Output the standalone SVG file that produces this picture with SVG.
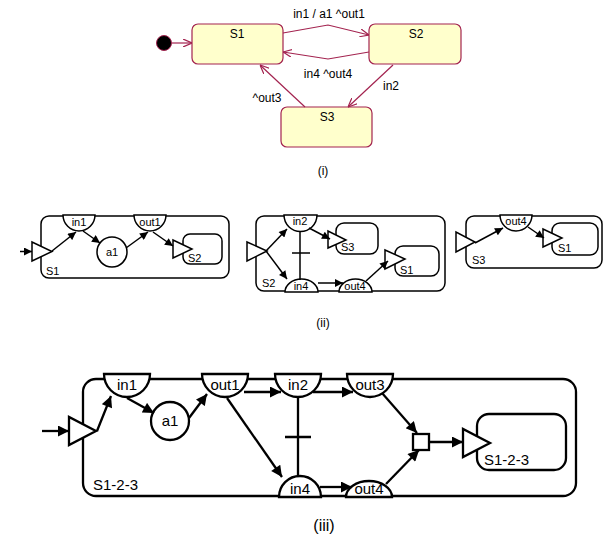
<svg xmlns="http://www.w3.org/2000/svg" width="608" height="546" viewBox="0 0 608 546">
<defs>
<style>
text{font-family:"Liberation Sans",Arial,sans-serif;fill:#000}
.st{fill:#ffffcc;stroke:#a3234f;stroke-width:1.2}
.tr1{fill:none;stroke:#a3234f;stroke-width:1.2}
.t1{font-size:12px;text-anchor:middle}
.b2{fill:#fff;stroke:#000;stroke-width:1.5}
.c2{fill:none;stroke:#000;stroke-width:1.5}
.t2{font-size:11px}
.b3{fill:#fff;stroke:#000;stroke-width:2.3}
.c3{fill:none;stroke:#000;stroke-width:2.3}
.t3{font-size:15px}
.m{text-anchor:middle}
</style>
<marker id="open" viewBox="0 0 9 8" refX="9" refY="4" markerWidth="9" markerHeight="8" markerUnits="userSpaceOnUse" orient="auto">
<path d="M0,0 L9,4 L0,8" fill="none" stroke="#a3234f" stroke-width="1.2"/>
</marker>
<marker id="f2" viewBox="0 0 10 10" refX="10" refY="5" markerWidth="9" markerHeight="8" markerUnits="userSpaceOnUse" orient="auto">
<path d="M0,0 L10,5 L0,10 z" fill="#000"/>
</marker>
<marker id="f3" viewBox="0 0 10 10" refX="10" refY="5" markerWidth="13" markerHeight="11" markerUnits="userSpaceOnUse" orient="auto">
<path d="M0,0 L10,5 L0,10 z" fill="#000"/>
</marker>
</defs>

<!-- ===== (i) ===== -->
<g id="i-init"><circle cx="164" cy="43" r="7.5" fill="#000" stroke="#a3234f" stroke-width="1"/></g>
<g id="i-S1"><rect class="st" x="192" y="24" width="91" height="40" rx="6"/><text class="t1" x="237" y="38">S1</text></g>
<g id="i-S2"><rect class="st" x="369" y="24" width="92" height="40" rx="6"/><text class="t1" x="416" y="38">S2</text></g>
<g id="i-S3"><rect class="st" x="281" y="107" width="91" height="40" rx="6"/><text class="t1" x="327" y="121">S3</text></g>
<g id="i-connectors">
<path class="tr1" d="M172,43 L192,43" marker-end="url(#open)"/>
<path class="tr1" d="M283,33 L328,25 L369,35" marker-end="url(#open)"/>
<path class="tr1" d="M369,52 L328,59 L283,52" marker-end="url(#open)"/>
<path class="tr1" d="M393,65 L348,107" marker-end="url(#open)"/>
<path class="tr1" d="M305,107 L260,65" marker-end="url(#open)"/>
<text class="t1" x="329" y="18">in1 / a1 ^out1</text>
<text class="t1" x="328" y="78">in4 ^out4</text>
<text class="t1" x="391" y="90">in2</text>
<text class="t1" x="267" y="102">^out3</text>
</g>
<text class="t1" x="323" y="175">(i)</text>

<!-- ===== (ii) panel S1 ===== -->
<g id="ii-S1">
<rect class="b2" x="41" y="216" width="188" height="62" rx="8"/>
<text class="t2" x="46" y="275">S1</text>
</g>
<g id="ii-S1-entry"><polygon class="b2" points="32,242 32,261 52,251.5"/></g>
<g id="ii-S1-in1"><path class="b2" d="M63,215 A16,16 0 0 0 95,215 Z"/><text class="t2 m" x="79" y="226">in1</text></g>
<g id="ii-S1-a1"><circle class="b2" cx="112" cy="252" r="15"/><text class="t2 m" x="112" y="256">a1</text></g>
<g id="ii-S1-out1"><path class="b2" d="M134,215 A16,16 0 0 0 166,215 Z"/><text class="t2 m" x="150" y="226">out1</text></g>
<g id="ii-S1-S2">
<rect class="b2" x="183" y="234" width="39" height="30" rx="7"/>
<polygon class="b2" points="173,240 173,258 192,249"/>
<text class="t2" x="188" y="262">S2</text>
</g>

<!-- ===== (ii) panel S2 ===== -->
<g id="ii-S2">
<rect class="b2" x="256" y="216" width="189" height="75" rx="8"/>
<text class="t2" x="262" y="287">S2</text>
</g>
<g id="ii-S2-entry"><polygon class="b2" points="247,242 247,261 267,251"/></g>
<g id="ii-S2-in2"><path class="b2" d="M284,215 A16.5,16.5 0 0 0 317,215 Z"/><text class="t2 m" x="300" y="225">in2</text></g>
<g id="ii-S2-in4"><path class="b2" d="M285,292 A16.5,13 0 0 1 318,292 Z"/><text class="t2 m" x="301" y="290">in4</text></g>
<g id="ii-S2-out4"><path class="b2" d="M339,292 A16.5,13 0 0 1 372,292 Z"/><text class="t2 m" x="355" y="290">out4</text></g>
<g id="ii-S2-S3">
<rect class="b2" x="336" y="223" width="42" height="31" rx="8"/>
<polygon class="b2" points="328,231 328,248 346,240"/>
<text class="t2" x="341" y="251">S3</text>
</g>
<g id="ii-S2-S1">
<rect class="b2" x="395" y="246" width="44" height="30" rx="8"/>
<polygon class="b2" points="385,250 385,269 405,259"/>
<text class="t2" x="400" y="274">S1</text>
</g>

<!-- ===== (ii) panel S3 ===== -->
<g id="ii-S3">
<rect class="b2" x="466" y="216" width="136" height="52" rx="8"/>
<text class="t2" x="472" y="264">S3</text>
</g>
<g id="ii-S3-entry"><polygon class="b2" points="456,232 456,252 475,242"/></g>
<g id="ii-S3-out4"><path class="b2" d="M500,215 A16,16 0 0 0 532,215 Z"/><text class="t2 m" x="516" y="225">out4</text></g>
<g id="ii-S3-S1">
<rect class="b2" x="552" y="223" width="46" height="32" rx="8"/>
<polygon class="b2" points="543,229 543,247 562,238"/>
<text class="t2" x="558" y="252">S1</text>
</g>

<g id="ii-connectors">
<path class="c2" d="M20,251.5 L32,251.5" marker-end="url(#f2)"/>
<path class="c2" d="M52,251 L76,232" marker-end="url(#f2)"/>
<path class="c2" d="M83,231 L100,243" marker-end="url(#f2)"/>
<path class="c2" d="M126,248 L148,232" marker-end="url(#f2)"/>
<path class="c2" d="M153,232 L173,246" marker-end="url(#f2)"/>
<path class="c2" d="M266,251 L287,229" marker-end="url(#f2)"/>
<path class="c2" d="M266,251 L287,279" marker-end="url(#f2)"/>
<path class="c2" d="M309,228 L330,239" marker-end="url(#f2)"/>
<path class="c2" d="M318,283 L343,283" marker-end="url(#f2)"/>
<path class="c2" d="M366,281 L388,261" marker-end="url(#f2)"/>
<path class="c2" d="M300,231 L300,280 M292,253 L310,253"/>
<path class="c2" d="M475,243 L503,228" marker-end="url(#f2)"/>
<path class="c2" d="M528,227 L544,238" marker-end="url(#f2)"/>
</g>
<text class="t1" x="323" y="327">(ii)</text>

<!-- ===== (iii) ===== -->
<g id="iii-S123">
<rect class="b3" x="83" y="379" width="493" height="117" rx="13"/>
<text class="t3" x="93" y="490">S1-2-3</text>
</g>
<g id="iii-entry"><polygon class="b3" points="69,417 69,445 96,431"/></g>
<g id="iii-in1"><path class="b3" d="M104,374 A23,23 0 0 0 150,374 Z"/><text class="t3 m" x="127" y="390">in1</text></g>
<g id="iii-a1"><circle class="b3" cx="170" cy="421" r="19"/><text class="t3 m" x="170" y="426">a1</text></g>
<g id="iii-out1"><path class="b3" d="M202,374 A23,23 0 0 0 248,374 Z"/><text class="t3 m" x="225" y="390">out1</text></g>
<g id="iii-in2"><path class="b3" d="M275,374 A23,23 0 0 0 321,374 Z"/><text class="t3 m" x="298" y="390">in2</text></g>
<g id="iii-out3"><path class="b3" d="M347,374 A23,23 0 0 0 393,374 Z"/><text class="t3 m" x="370" y="390">out3</text></g>
<g id="iii-in4"><path class="b3" d="M279,497 A21,21 0 0 1 321,497 Z"/><text class="t3 m" x="300" y="494">in4</text></g>
<g id="iii-out4"><path class="b3" d="M346,497 A23,16 0 0 1 392,497 Z"/><text class="t3 m" x="369" y="494">out4</text></g>
<g id="iii-junction"><rect class="b3" x="413" y="434" width="16" height="16"/></g>
<g id="iii-inner">
<rect class="b3" x="477" y="414" width="89" height="56" rx="12"/>
<polygon class="b3" points="463,429 463,457 490,443"/>
<text class="t3" x="484" y="465">S1-2-3</text>
</g>
<g id="iii-connectors">
<path class="c3" d="M42,431 L69,431" marker-end="url(#f3)"/>
<path class="c3" d="M97,431 L111,396" marker-end="url(#f3)"/>
<path class="c3" d="M127,398 L154,413" marker-end="url(#f3)"/>
<path class="c3" d="M189,418 L207,394" marker-end="url(#f3)"/>
<path class="c3" d="M244,392 L281,392" marker-end="url(#f3)"/>
<path class="c3" d="M227,398 L282,477" marker-end="url(#f3)"/>
<path class="c3" d="M313,392 L353,392" marker-end="url(#f3)"/>
<path class="c3" d="M320,487 L352,487" marker-end="url(#f3)"/>
<path class="c3" d="M298,398 L298,477 M285,437 L311,437"/>
<path class="c3" d="M382,393 L417,433" marker-end="url(#f3)"/>
<path class="c3" d="M386,484 L419,450" marker-end="url(#f3)"/>
<path class="c3" d="M429,442 L463,442" marker-end="url(#f3)"/>
</g>
<text class="m" style="font-size:16px" x="324" y="531">(iii)</text>
</svg>
